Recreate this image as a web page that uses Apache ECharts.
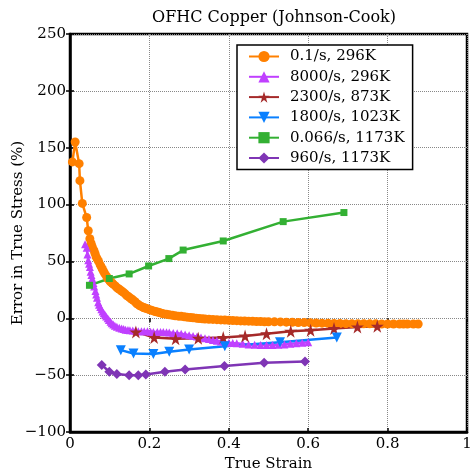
<!DOCTYPE html>
<html>
<head>
<meta charset="utf-8">
<script src="https://cdn.jsdelivr.net/npm/echarts@6/dist/echarts.min.js"></script>
<style>
  html, body { margin: 0; padding: 0; background: #fff; }
  #chart { width: 472px; height: 475px; }
</style>
</head>
<body>
<div id="chart"></div>
<script>
// values
var names = ['0.1/s, 296K', '8000/s, 296K', '2300/s, 873K', '1800/s, 1023K', '0.066/s, 1173K', '960/s, 1173K'];

var x1 = [0.006, 0.013, 0.023, 0.025, 0.031, 0.042, 0.046, 0.050, 0.053, 0.056, 0.060, 0.063, 0.066, 0.069, 0.072, 0.076, 0.079, 0.082, 0.085, 0.088, 0.092, 0.095, 0.099, 0.102, 0.106, 0.109, 0.114, 0.118, 0.122, 0.126, 0.130, 0.134, 0.139, 0.143, 0.147, 0.151, 0.155, 0.159, 0.164, 0.168, 0.172, 0.176, 0.181, 0.185, 0.189, 0.193, 0.199, 0.205, 0.210, 0.215, 0.220, 0.225, 0.230, 0.235, 0.243, 0.25, 0.258, 0.265, 0.273, 0.28, 0.288, 0.295, 0.303, 0.31, 0.318, 0.325, 0.333, 0.34, 0.35, 0.36, 0.37, 0.38, 0.39, 0.40, 0.41, 0.42, 0.43, 0.44, 0.45, 0.46, 0.47, 0.48, 0.49, 0.50, 0.515, 0.53, 0.545, 0.56, 0.575, 0.59, 0.605, 0.62, 0.635, 0.65, 0.665, 0.68, 0.695, 0.71, 0.725, 0.74, 0.755, 0.77, 0.785, 0.80, 0.815, 0.83, 0.84, 0.85, 0.865, 0.877];
var y1 = [137.5, 155, 136, 121, 101, 88.6, 77, 70, 66, 63, 60, 57, 54, 52, 50, 47, 45, 43, 41, 39, 37, 35, 33.5, 32, 31, 30, 28.5, 27, 26, 25, 24, 23, 21.5, 20, 19, 18, 17, 16, 14.5, 13, 12, 11, 10.2, 9.5, 9, 8.5, 7.7, 7, 6.5, 6, 5.5, 5, 4.5, 4, 3.5, 3, 2.6, 2.2, 1.9, 1.7, 1.3, 1.0, 0.7, 0.4, 0.1, -0.2, -0.4, -0.6, -0.8, -1.0, -1.2, -1.4, -1.6, -1.8, -2.0, -2.1, -2.3, -2.4, -2.5, -2.6, -2.8, -2.9, -3.0, -3.0, -3.1, -3.2, -3.4, -3.5, -3.7, -3.8, -4.0, -4.1, -4.3, -4.4, -4.5, -4.6, -4.7, -4.7, -4.8, -4.8, -4.9, -4.9, -5.0, -5.0, -5.0, -5.0, -5.0, -5.0, -5.0, -5.0];

var x2 = [0.038, 0.042, 0.044, 0.046, 0.048, 0.050, 0.052, 0.054, 0.056, 0.059, 0.061, 0.064, 0.066, 0.068, 0.071, 0.073, 0.076, 0.079, 0.082, 0.085, 0.088, 0.091, 0.095, 0.098, 0.102, 0.105, 0.109, 0.113, 0.118, 0.124, 0.130, 0.135, 0.140, 0.146, 0.151, 0.158, 0.165, 0.172, 0.180, 0.187, 0.195, 0.203, 0.21, 0.22, 0.228, 0.235, 0.243, 0.25, 0.26, 0.27, 0.28, 0.29, 0.30, 0.31, 0.32, 0.33, 0.34, 0.35, 0.36, 0.37, 0.38, 0.39, 0.40, 0.41, 0.42, 0.435, 0.45, 0.465, 0.48, 0.495, 0.51, 0.525, 0.54, 0.555, 0.57, 0.585, 0.60];
var y2 = [65, 62, 56, 51, 48, 45, 41, 38, 35, 31, 28, 24, 21, 18, 14, 12, 10, 8, 6, 4.5, 3, 1.5, 0, -1.5, -3, -4.3, -5.5, -6.5, -7.5, -8.3, -9, -9.5, -10, -10.3, -10.5, -10.8, -11, -11.3, -11.5, -11.5, -11.5, -11.8, -12, -12, -12, -12, -12.3, -12.6, -13, -13.2, -13.5, -14.2, -15, -15.5, -16, -16.8, -17.5, -18.2, -19, -19.8, -20.5, -21, -21.5, -21.8, -22, -22.5, -23, -23.3, -23.5, -23.5, -23.5, -23.3, -23, -22.5, -22, -21.5, -21];

var x3 = [0.166, 0.212, 0.266, 0.323, 0.386, 0.441, 0.495, 0.556, 0.606, 0.665, 0.724, 0.774];
var y3 = [-12, -17, -18, -17.5, -17, -15.5, -13.5, -11.5, -10.5, -9, -7.6, -7];

var x4 = [0.128, 0.16, 0.21, 0.25, 0.30, 0.39, 0.529, 0.672];
var y4 = [-28, -31, -31.5, -29.5, -27.5, -24.5, -21, -17];

var x5 = [0.049, 0.099, 0.149, 0.198, 0.249, 0.285, 0.386, 0.537, 0.69];
var y5 = [29, 35, 39, 46, 52.5, 60, 68, 85, 93];

var x6 = [0.08, 0.099, 0.118, 0.149, 0.172, 0.191, 0.239, 0.29, 0.389, 0.489, 0.592];
var y6 = [-41, -47, -49, -50, -50, -49.5, -47, -45, -42, -39, -38];

var xTicks = [0, 0.2, 0.4, 0.6, 0.8, 1];
var yTicks = [-100, -50, 0, 50, 100, 150, 200, 250];

var colors = ['#ff8000', '#c040ff', '#a52a2a', '#0a80ff', '#33b033', '#7f35b5'];
var symbols = ['circle', 'triangle', 'path://M50,0 L61,35 L98,35 L68,57 L79,91 L50,70 L21,91 L32,57 L2,35 L39,35 Z', 'triangle', 'rect', 'diamond'];
var symSizes = [9, 8, 13, 10, 7, 10];
var rotates = [0, 0, 0, 180, 0, 0];

function zip(xs, ys) {
    var out = [];
    for (var i = 0; i < xs.length; i++) out.push([xs[i], ys[i]]);
    return out;
}
var allX = [x1, x2, x3, x4, x5, x6];
var allY = [y1, y2, y3, y4, y5, y6];

var font = 'DejaVu Serif';
var series = [];
for (var k = 0; k < names.length; k++) {
    series.push({
        name: names[k],
        type: 'line',
        data: zip(allX[k], allY[k]),
        symbol: symbols[k],
        symbolSize: symSizes[k],
        symbolRotate: rotates[k],
        showAllSymbol: true,
        lineStyle: { width: 2.5, color: colors[k] },
        itemStyle: { color: colors[k] },
        animation: false
    });
}

var chart = echarts.init(document.getElementById('chart'));
var option = {
    animation: false,
    color: colors,
    title: {
        text: 'OFHC Copper (Johnson-Cook)',
        left: 269, top: 5, textAlign: 'center',
        textStyle: { fontFamily: font, fontWeight: 'normal', fontSize: 16, color: '#000' }
    },
    grid: {
        left: 70, right: 5, top: 34, bottom: 43,
        outerBoundsMode: 'none',
        show: true, borderColor: '#000', borderWidth: 2.5
    },
    legend: {
        left: 237, top: 45, width: 192,
        orient: 'vertical',
        backgroundColor: '#fff',
        borderColor: '#000', borderWidth: 1.5,
        padding: [4, 8, 4, 11],
        itemGap: 5.3, itemWidth: 30, itemHeight: 14,
        textStyle: { fontFamily: font, fontSize: 15, color: '#000', padding: [0, 0, 0, 6] },
        data: names
    },
    xAxis: [{
        type: 'value', min: 0, max: 1, interval: 0.2,
        name: 'True Strain', nameLocation: 'middle', nameGap: 25, nameMoveOverlap: false,
        nameTextStyle: { fontFamily: font, fontSize: 15, color: '#000' },
        axisLine: { onZero: false, lineStyle: { color: '#000', width: 2.5 } },
        axisTick: { inside: true, length: 4, lineStyle: { color: '#000', width: 1.5 } },
        axisLabel: { fontFamily: font, fontSize: 15, color: '#000', margin: 5,
            formatter: function (v) { return xTicks.indexOf(v) >= 0 ? String(v) : ''; } },
        splitLine: { lineStyle: { color: '#888', type: 'dotted', width: 1 } }
    }, {
        type: 'value', min: 0, max: 1, interval: 0.2, position: 'top',
        axisLine: { show: false },
        axisTick: { inside: true, length: 4, lineStyle: { color: '#000', width: 1.5 } },
        axisLabel: { show: false }, splitLine: { show: false }
    }],
    yAxis: [{
        type: 'value', min: -100, max: 250, interval: 50,
        name: 'Error in True Stress (%)', nameLocation: 'middle', nameGap: 44, nameMoveOverlap: false,
        nameTextStyle: { fontFamily: font, fontSize: 15, color: '#000' },
        axisLine: { show: true, onZero: false, lineStyle: { color: '#000', width: 2.5 } },
        axisTick: { show: true, inside: true, length: 4, lineStyle: { color: '#000', width: 1.5 } },
        axisLabel: { fontFamily: font, fontSize: 15, color: '#000', margin: 4,
            formatter: function (v) { return yTicks.indexOf(v) >= 0 ? String(v).replace('-', '\u2212') : ''; } },
        splitLine: { lineStyle: { color: '#888', type: 'dotted', width: 1 } }
    }, {
        type: 'value', min: -100, max: 250, interval: 50, position: 'right',
        axisLine: { show: false },
        axisTick: { show: true, inside: true, length: 4, lineStyle: { color: '#000', width: 1.5 } },
        axisLabel: { show: false }, splitLine: { show: false }
    }],
    series: series
};
chart.setOption(option);
</script>
</body>
</html>
